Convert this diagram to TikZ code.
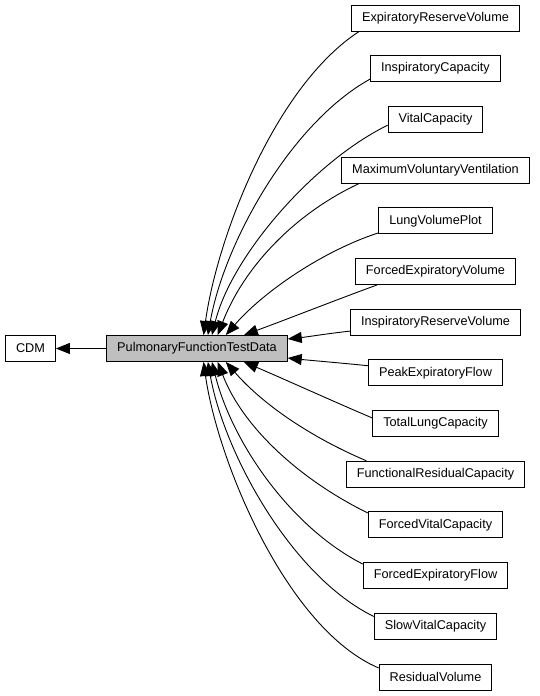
\documentclass[tikz,border=0pt]{standalone}
\usepackage{fontspec}
\setmainfont{Liberation Sans}
\usepackage{tikz}
\usetikzlibrary{arrows.meta}

\tikzset{
	box/.style={draw=black,line width=0.9pt,fill=white,inner xsep=10.5pt,inner ysep=0pt,minimum height=26pt,font=\fontsize{12.7}{15}\selectfont},
	mainbox/.style={box,fill=black!25},
	edge/.style={line width=0.9pt,-{Triangle[length=14pt,width=11pt]}}
}

\begin{document}
\begin{tikzpicture}[x=1pt,y=1pt]
	\useasboundingbox (0,0) rectangle (539,696);
	\node[box] (cdm) at (30.5,347.5) {CDM};
	\node[mainbox] (pftd) at (197,347.5) {PulmonaryFunctionTestData};
	%rechte Spalte
	\foreach \nm/\txt [count=\k from 0] in {erv/ExpiratoryReserveVolume,ic/InspiratoryCapacity,vc/VitalCapacity,mvv/MaximumVoluntaryVentilation,lvp/LungVolumePlot,fev/ForcedExpiratoryVolume,irv/InspiratoryReserveVolume,pef/PeakExpiratoryFlow,tlc/TotalLungCapacity,frc/FunctionalResidualCapacity,fvc/ForcedVitalCapacity,fef/ForcedExpiratoryFlow,svc/SlowVitalCapacity,rv/ResidualVolume}
	{
		\node[box] (\nm) at (435.5,{678-50.69*\k}) {\txt};
	}
	\draw[edge] (pftd) -- (cdm);
	%Kanten nach pftd
	\foreach \nm/\sa/\ea/\ou/\inn/\dd in {erv/190/64/213/82/100,ic/189/51/209/80/92,vc/187/42/206/76/82,mvv/190/33/205/69/72,lvp/192/25/198/49/58,fev/193/16/200/20/40,irv/186/6/186/6/20,pef/174/-6/174/-6/20,tlc/175/-16/157/-23/40,frc/169/-25/157/-49/58,fvc/170/-33/154/-69/72,fef/171/-42/153/-76/82,svc/171/-51/154/-80/92,rv/171/-64/157/-82/100}
	{
		\draw[edge] (\nm.\sa) to[out=\ou,in=\inn,distance=\dd pt] (pftd.\ea);
	}
\end{tikzpicture}
\end{document}
